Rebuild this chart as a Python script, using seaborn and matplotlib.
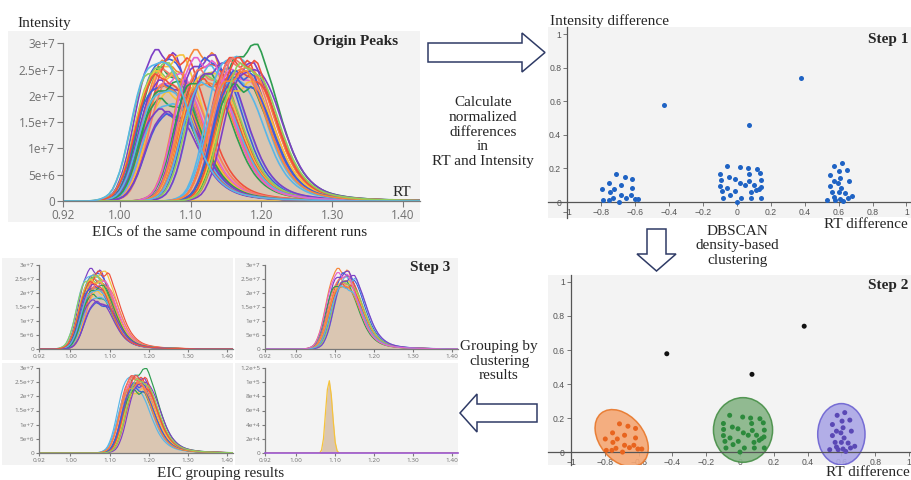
import numpy as np
import pandas as pd
import matplotlib
matplotlib.use("Agg")
import matplotlib.pyplot as plt
import seaborn as sns
from matplotlib.patches import Ellipse, Polygon, Rectangle

# ---------------------------------------------------------------- data
RT_START, RT_STEP, RT_COUNT = 0.92, 0.005, 102          # RT grid 0.920 .. 1.425

# relative EIC peak profile, offsets -0.100 .. +0.250 (step 0.005), apex at index 20
PEAK_PROFILE = [
    0.002, 0.005, 0.010, 0.018, 0.030, 0.050, 0.085, 0.14, 0.21, 0.30,
    0.41, 0.53, 0.65, 0.76, 0.85, 0.91, 0.95, 0.97, 0.98, 0.99,
    1.00,
    0.99, 0.97, 0.93, 0.88, 0.82, 0.75, 0.67, 0.59, 0.51, 0.44,
    0.37, 0.31, 0.26, 0.215, 0.18, 0.15, 0.125, 0.105, 0.088, 0.074,
    0.063, 0.054, 0.047, 0.041, 0.036, 0.032, 0.028, 0.025, 0.022, 0.020,
    0.018, 0.016, 0.014, 0.013, 0.012, 0.011, 0.010, 0.009, 0.008, 0.008,
    0.007, 0.006, 0.006, 0.005, 0.005, 0.004, 0.004, 0.003, 0.003, 0.002,
]
PROFILE_APEX = 20
# peak-top irregularities, offsets -0.030 .. +0.030
TOP_VARIANTS = [
    [0, 0, 0, 0, 0, 0, 0, 0, 0, 0, 0, 0, 0],
    [0, 0, 0.02, 0.04, 0.03, -0.02, -0.06, -0.03, 0.02, 0.04, 0.02, 0, 0],
    [0, 0.02, 0.05, 0.06, 0.03, 0, -0.02, -0.04, -0.03, -0.01, 0, 0, 0],
    [0, 0, -0.02, -0.04, -0.05, -0.03, 0, 0.02, 0.04, 0.03, 0.01, 0, 0],
    [0, 0, 0.01, 0.03, 0.02, -0.03, -0.07, -0.07, -0.05, -0.02, 0, 0, 0],
]
# narrow peak (group D), offsets -0.025 .. +0.025, apex at index 5
D_PROFILE = [0.0, 0.04, 0.20, 0.55, 0.88, 1.0, 0.80, 0.45, 0.15, 0.03, 0.0]
D_APEX = 5

PURPLE, BLUE, RED, ORANGE, YELLOW = "#7d3fc6", "#3f5fdb", "#f0503c", "#f7883a", "#f6c33b"
GREEN, LGREEN, LBLUE, PINK, SALMON = "#2e9d50", "#8fcf5c", "#58b6e8", "#e262cf", "#f37a6c"

A_RT = [1.065, 1.07, 1.075, 1.08, 1.07, 1.065, 1.06, 1.075, 1.08, 1.085, 1.07, 1.065, 1.075,
        1.08, 1.07, 1.06, 1.075, 1.085, 1.07, 1.08, 1.065, 1.075, 1.07, 1.08, 1.065]
A_HEIGHT = [2.85, 2.70, 2.60, 2.75, 2.55, 2.50, 2.65, 2.45, 2.40, 2.75, 2.30, 2.20, 2.15,
            2.05, 1.95, 2.60, 1.85, 2.35, 1.75, 1.65, 2.45, 2.25, 2.10, 1.70, 2.35]   # x 1e7
A_VARIANT = [1, 0, 2, 3, 4, 1, 0, 2, 3, 1, 4, 0, 2, 1, 4, 3, 0, 2, 4, 4, 1, 3, 0, 4, 2]
A_COLOR = [PURPLE, BLUE, ORANGE, YELLOW, GREEN, LGREEN, LBLUE, SALMON, PINK, RED, PURPLE, BLUE,
           ORANGE, YELLOW, GREEN, LGREEN, LBLUE, SALMON, PURPLE, BLUE, YELLOW, GREEN, LBLUE,
           PURPLE, RED]

B_RT = [1.12, 1.125, 1.13, 1.135, 1.14, 1.125, 1.13, 1.12, 1.135, 1.13, 1.125, 1.14, 1.13, 1.12]
B_HEIGHT = [2.85, 2.75, 2.60, 2.65, 2.55, 2.50, 2.45, 2.40, 2.35, 2.30, 2.25, 2.60, 2.20, 2.70]
B_VARIANT = [1, 3, 0, 2, 1, 4, 0, 3, 2, 1, 0, 3, 2, 1]
B_COLOR = [ORANGE, PURPLE, RED, BLUE, LBLUE, SALMON, YELLOW, GREEN, LGREEN, RED, ORANGE,
           PURPLE, LBLUE, PINK]

C_RT = [1.185, 1.165, 1.17, 1.175, 1.18, 1.18, 1.17, 1.175, 1.185, 1.165, 1.18, 1.175, 1.17,
        1.19, 1.18, 1.175, 1.17, 1.185]
C_HEIGHT = [2.95, 2.75, 2.70, 2.65, 2.60, 2.55, 2.50, 2.45, 2.40, 2.30, 2.25, 2.20, 2.60,
            2.50, 2.70, 2.35, 2.45, 2.55]
C_VARIANT = [3, 0, 1, 2, 3, 0, 4, 1, 2, 0, 3, 1, 2, 0, 1, 4, 3, 2]
C_COLOR = [GREEN, LBLUE, RED, SALMON, PURPLE, ORANGE, PINK, BLUE, RED, LBLUE, YELLOW, GREEN,
           SALMON, PURPLE, RED, BLUE, ORANGE, LGREEN]

D_RT = [1.085]
D_HEIGHT = [1.02e5]
D_COLOR = [YELLOW]

X_TICKS = [0.92, 1.00, 1.10, 1.20, 1.30, 1.40]
X_LABELS = ["0.92", "1.00", "1.10", "1.20", "1.30", "1.40"]
Y_TICKS = [0, 5e6, 1e7, 1.5e7, 2e7, 2.5e7, 3e7]
Y_LABELS = ["0", "5e+6", "1e+7", "1.5e+7", "2e+7", "2.5e+7", "3e+7"]
D_TICKS = [0, 2e4, 4e4, 6e4, 8e4, 1e5, 1.2e5]
D_LABELS = ["0", "2e+4", "4e+4", "6e+4", "8e+4", "1e+5", "1.2e+5"]

# normalized differences (RT difference, intensity difference)
NOISE_RT = [-0.433, 0.071, 0.380]
NOISE_INT = [0.578, 0.457, 0.740]
C1_RT = [-0.797, -0.791, -0.754, -0.752, -0.758, -0.734, -0.726, -0.713, -0.695, -0.683,
         -0.683, -0.663, -0.654, -0.628, -0.618, -0.618, -0.604, -0.581]
C1_INT = [0.077, 0.010, 0.113, 0.057, 0.010, 0.022, 0.077, 0.166, 0.000, 0.099,
          0.040, 0.152, 0.026, 0.040, 0.139, 0.083, 0.018, 0.018]
C2_RT = [-0.098, -0.097, -0.098, -0.089, -0.083, -0.061, -0.059, -0.045, -0.041, -0.012,
         -0.010, 0.000, 0.016, 0.020, 0.026, 0.049, 0.063, 0.069, 0.073, 0.083, 0.085,
         0.098, 0.118, 0.114, 0.128, 0.138, 0.144, 0.142, 0.144]
C2_INT = [0.168, 0.133, 0.097, 0.063, 0.024, 0.216, 0.083, 0.147, 0.044, 0.137, 0.063,
          0.000, 0.206, 0.113, 0.024, 0.099, 0.200, 0.168, 0.127, 0.057, 0.024, 0.099,
          0.196, 0.069, 0.079, 0.172, 0.129, 0.089, 0.024]
C3_RT = [0.531, 0.547, 0.547, 0.563, 0.571, 0.575, 0.571, 0.581, 0.597, 0.600, 0.604,
         0.610, 0.610, 0.616, 0.620, 0.626, 0.640, 0.650, 0.654, 0.659, 0.679]
C3_INT = [0.014, 0.162, 0.097, 0.057, 0.123, 0.216, 0.030, 0.014, 0.113, 0.057, 0.182,
          0.143, 0.018, 0.083, 0.232, 0.004, 0.053, 0.188, 0.024, 0.123, 0.034]
SC_TICKS_X = [-1, -0.8, -0.6, -0.4, -0.2, 0, 0.2, 0.4, 0.6, 0.8, 1]
SC_LABELS_X = ["\u22121", "\u22120.8", "\u22120.6", "\u22120.4", "\u22120.2", "0",
               "0.2", "0.4", "0.6", "0.8", "1"]
SC_TICKS_Y = [0, 0.2, 0.4, 0.6, 0.8, 1]
SC_LABELS_Y = ["0", "0.2", "0.4", "0.6", "0.8", "1"]
# cluster outlines: (centre x, centre y, width, height, angle)
CLUSTER_ELLIPSES = [(-0.70, 0.082, 0.38, 0.26, -50), (0.018, 0.13, 0.35, 0.38, 0),
                    (0.60, 0.105, 0.28, 0.36, 0)]
ELLIPSE_FACE = ["#f5a774", "#87b487", "#aba7e6"]
ELLIPSE_EDGE = ["#e8772a", "#468f46", "#6c62d2"]
CLUSTER_POINT = {"noise": "#111111", "c1": "#e8641e", "c2": "#2c8a3c", "c3": "#5a48b5"}

# ---------------------------------------------------------------- helpers
RT = RT_START + RT_STEP * np.arange(RT_COUNT)


def place(profile, apex_idx, apex_rt, height):
    y = np.zeros(RT_COUNT)
    a = int(round((apex_rt - RT_START) / RT_STEP))
    for k, p in enumerate(profile):
        g = a - apex_idx + k
        if 0 <= g < RT_COUNT:
            y[g] = height * p
    return y


def group_frame(name, rts, heights, variants, colors, scale=1e7):
    rows, pal = [], {}
    for i, (r, h, v, c) in enumerate(zip(rts, heights, variants, colors)):
        prof = np.array(PEAK_PROFILE, dtype=float)
        prof[PROFILE_APEX - 6:PROFILE_APEX + 7] += np.array(TOP_VARIANTS[v])
        y = place(prof, PROFILE_APEX, r, h * scale)
        run = f"{name}{i}"
        pal[run] = c
        rows.append(pd.DataFrame({"rt": RT, "intensity": y, "run": run}))
    return pd.concat(rows, ignore_index=True), pal


dfA, palA = group_frame("A", A_RT, A_HEIGHT, A_VARIANT, A_COLOR)
dfB, palB = group_frame("B", B_RT, B_HEIGHT, B_VARIANT, B_COLOR)
dfC, palC = group_frame("C", C_RT, C_HEIGHT, C_VARIANT, C_COLOR)
dfD = pd.DataFrame({"rt": RT, "intensity": place(D_PROFILE, D_APEX, D_RT[0], D_HEIGHT[0]),
                    "run": "D0"})
palD = {"D0": D_COLOR[0]}

# ---------------------------------------------------------------- figure
sns.set_theme(style="white")
plt.rcParams["font.family"] = ["Liberation Serif", "DejaVu Serif"]
W, H = 911, 480
fig = plt.figure(figsize=(W / 100, H / 100), dpi=100)
fig.patch.set_facecolor("white")


def px_axes(x0, y0, x1, y1, z=2):
    return fig.add_axes([x0 / W, 1 - y1 / H, (x1 - x0) / W, (y1 - y0) / H], zorder=z)


bg = fig.add_axes([0, 0, 1, 1], zorder=0)
bg.set_xlim(0, W); bg.set_ylim(H, 0); bg.axis("off")
for (x, y, w, h) in [(8, 31, 412, 191), (548, 27, 363, 191), (548, 275, 363, 190),
                     (2, 258, 231, 102), (235, 258, 223, 102), (2, 363, 231, 102),
                     (235, 363, 223, 102)]:
    bg.add_patch(Rectangle((x, y), w, h, facecolor="#f3f3f3", edgecolor="none"))


def style_eic(ax, yt, yl, fs, tl, xmax, ymax):
    ax.set_facecolor("none")
    ax.grid(False)
    for s in ["top", "right"]:
        ax.spines[s].set_visible(False)
    for s in ["left", "bottom"]:
        ax.spines[s].set_color("#7a7a7a")
        ax.spines[s].set_linewidth(0.9)
    ax.set_xlim(0.92, xmax)
    ax.set_ylim(0, ymax)
    ax.set_xticks(X_TICKS, X_LABELS)
    ax.set_yticks(yt, yl)
    ax.tick_params(axis="both", length=tl, width=0.8, color="#7a7a7a", labelsize=fs,
                   labelcolor="#707070", pad=1.5, left=True, bottom=True)
    for lab in ax.get_xticklabels() + ax.get_yticklabels():
        lab.set_fontfamily("Open Sans")
    ax.set_xlabel("")
    ax.set_ylabel("")


def draw_group(ax, dfs, pals, order, lw, fills):
    df = pd.concat(dfs, ignore_index=True)
    pal = {}
    for p in pals:
        pal.update(p)
    for fdf in fills:
        mean = fdf.groupby("rt")["intensity"].mean()
        ax.fill_between(mean.index.values, mean.values, color="#dac6b2", lw=0, zorder=1)
    sns.lineplot(data=df, x="rt", y="intensity", hue="run", hue_order=order, palette=pal,
                 estimator=None, legend=False, linewidth=lw, sort=False, ax=ax, zorder=2)


# main EIC panel
ax0 = px_axes(63, 43.3, 420, 201)
order = list(palD) + list(palA) + list(palB) + list(palC)
blue_run = [r for r in palA if palA[r] == LBLUE][0]
order.remove(blue_run); order.append(blue_run)
draw_group(ax0, [dfD, dfA, dfB, dfC], [palD, palA, palB, palC], order, 1.2, [dfA, dfB, dfC])
style_eic(ax0, Y_TICKS, Y_LABELS, 8.5, 4, 1.424, 3e7)

# step 3 panels
axA = px_axes(39, 265, 233, 349)
draw_group(axA, [dfA], [palA], list(palA), 0.85, [dfA])
style_eic(axA, Y_TICKS, Y_LABELS, 4.6, 2, 1.415, 3e7)
axB = px_axes(265, 265, 458, 349)
draw_group(axB, [dfB], [palB], list(palB), 0.85, [dfB])
style_eic(axB, Y_TICKS, Y_LABELS, 4.6, 2, 1.415, 3e7)
axC = px_axes(39, 368, 233, 453)
draw_group(axC, [dfC], [palC], list(palC), 0.85, [dfC])
style_eic(axC, Y_TICKS, Y_LABELS, 4.6, 2, 1.415, 3e7)
axD = px_axes(265, 368, 458, 453)
draw_group(axD, [dfD], [palD], list(palD), 0.9, [dfD])
style_eic(axD, D_TICKS, D_LABELS, 4.6, 2, 1.415, 1.2e5)
axD.spines["bottom"].set_color("#9a55d0")
axD.spines["bottom"].set_linewidth(1.2)

# scatter panels
pts = pd.concat([
    pd.DataFrame({"rt_diff": NOISE_RT, "int_diff": NOISE_INT, "cluster": "noise"}),
    pd.DataFrame({"rt_diff": C1_RT, "int_diff": C1_INT, "cluster": "c1"}),
    pd.DataFrame({"rt_diff": C2_RT, "int_diff": C2_INT, "cluster": "c2"}),
    pd.DataFrame({"rt_diff": C3_RT, "int_diff": C3_INT, "cluster": "c3"}),
], ignore_index=True)


def style_scatter(ax, xlim, ylim):
    ax.set_facecolor("none")
    ax.grid(False)
    ax.set_xlim(*xlim)
    ax.set_ylim(*ylim)
    for s in ["top", "right"]:
        ax.spines[s].set_visible(False)
    ax.spines["left"].set_position(("data", -1))
    ax.spines["bottom"].set_position(("data", 0))
    for s in ["left", "bottom"]:
        ax.spines[s].set_color("#555555")
        ax.spines[s].set_linewidth(0.9)
    ax.set_xticks(SC_TICKS_X, SC_LABELS_X)
    ax.set_yticks(SC_TICKS_Y, SC_LABELS_Y)
    ax.tick_params(axis="both", length=3, width=0.7, color="#777777", labelsize=6.2,
                   labelcolor="#555555", pad=1.5, left=True, bottom=True)
    for lab in ax.get_xticklabels() + ax.get_yticklabels():
        lab.set_fontfamily("Liberation Sans")
    ax.set_xlabel("")
    ax.set_ylabel("")


ax1 = px_axes(548, 27, 911, 218)
sns.scatterplot(data=pts, x="rt_diff", y="int_diff", color="#1f63c4", s=13, linewidth=0,
                ax=ax1, legend=False, zorder=3)
style_scatter(ax1, (-1.115, 1.027), (-0.095, 1.042))

ax2 = px_axes(548, 275, 911, 465)
for (cx, cy, w, h, ang), fc, ec in zip(CLUSTER_ELLIPSES, ELLIPSE_FACE, ELLIPSE_EDGE):
    ax2.add_patch(Ellipse((cx, cy), w, h, angle=ang, facecolor=fc, edgecolor=ec, lw=1.1,
                          alpha=0.9, zorder=2))
sns.scatterplot(data=pts, x="rt_diff", y="int_diff", hue="cluster", palette=CLUSTER_POINT,
                s=13, linewidth=0, ax=ax2, legend=False, zorder=3)
style_scatter(ax2, (-1.136, 1.012), (-0.076, 1.041))

# ---------------------------------------------------------------- overlay text / arrows
fg = fig.add_axes([0, 0, 1, 1], zorder=10)
fg.set_xlim(0, W); fg.set_ylim(H, 0); fg.axis("off")
FS = 11
fg.text(17, 23, "Intensity", fontsize=FS, ha="left", va="center")
fg.text(356, 42, "Origin Peaks", fontsize=FS, ha="center", va="center", fontweight="bold")
fg.text(402, 192, "RT", fontsize=FS, ha="center", va="center")
fg.text(230, 232, "EICs of the same compound in different runs", fontsize=FS,
        ha="center", va="center")
fg.text(550, 21, "Intensity difference", fontsize=FS, ha="left", va="center")
fg.text(888, 40, "Step 1", fontsize=FS, ha="center", va="center", fontweight="bold")
fg.text(866, 224, "RT difference", fontsize=FS, ha="center", va="center",
        bbox=dict(facecolor="white", edgecolor="none", pad=0.3))
fg.text(888, 285, "Step 2", fontsize=FS, ha="center", va="center", fontweight="bold")
fg.text(868, 473, "RT difference", fontsize=FS, ha="center", va="center",
        bbox=dict(facecolor="white", edgecolor="none", pad=0.2))
fg.text(430, 267, "Step 3", fontsize=FS, ha="center", va="center", fontweight="bold")
fg.text(221, 474, "EIC grouping results", fontsize=FS, ha="center", va="center")
fg.text(483, 132, "Calculate\nnormalized\ndifferences\nin\nRT and Intensity", fontsize=FS,
        ha="center", va="center", linespacing=1.15)
fg.text(737, 246, "DBSCAN\ndensity-based\nclustering", fontsize=FS, ha="center",
        va="center", linespacing=1.15)
fg.text(499, 361, "Grouping by\nclustering\nresults", fontsize=FS, ha="center",
        va="center", linespacing=1.15)

ARROWS = [
    [(428, 43), (522, 43), (522, 33), (545, 52.5), (522, 72), (522, 62), (428, 62)],
    [(647, 229), (666, 229), (666, 254), (676, 254), (656.5, 271), (637, 254), (647, 254)],
    [(537, 404), (477, 404), (477, 394), (460, 413), (477, 432), (477, 422), (537, 422)],
]
for poly in ARROWS:
    fg.add_patch(Polygon(poly, closed=True, facecolor="white", edgecolor="#2f3b66", lw=1.1))

fig.savefig("out.png", dpi=100)
